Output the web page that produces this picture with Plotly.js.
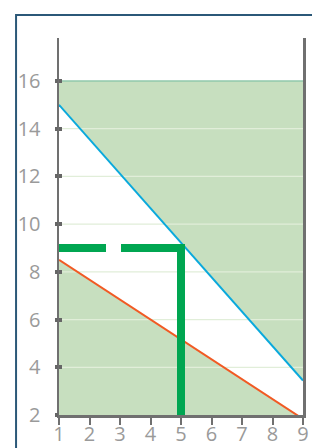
<!DOCTYPE html>
<html>
<head>
<meta charset="utf-8">
<script src="https://cdn.plot.ly/plotly-3.0.1.min.js"></script>
<style>html,body{margin:0;padding:0;background:#fff;}#chart{width:312px;height:448px;}</style>
</head>
<body>
<div id="chart"></div>
<script>
// Data
const xEnds = [1, 9];
const orangeY = [8.5, 1.833];     // 5x + 6y = 56
const blueY = [15, 3.444];        // 13x + 9y = 148
const topY = [16, 16];
const guideX = [1, 5, 5];
const guideY = [9, 9, 2];
const xTicks = [1, 2, 3, 4, 5, 6, 7, 8, 9];
const yTicks = [2, 4, 6, 8, 10, 12, 14, 16];
const gridVals = [4, 6, 8, 10, 12, 14];

const fillGreen = '#c7dfbf';
const gx = [], gy = [];
gridVals.forEach(v => { gx.push(xEnds[0], xEnds[1], null); gy.push(v, v, null); });

const traces = [
  {x: xEnds, y: orangeY, mode: 'lines', fill: 'tozeroy', fillcolor: fillGreen, line: {width: 0}, hoverinfo: 'skip'},
  {x: xEnds, y: blueY, mode: 'lines', line: {width: 0}, hoverinfo: 'skip'},
  {x: xEnds, y: topY, mode: 'lines', fill: 'tonexty', fillcolor: fillGreen, line: {color: '#90c9ab', width: 1.5}, hoverinfo: 'skip'},
  {x: gx, y: gy, mode: 'lines', line: {color: '#e1eed9', width: 1.2}, hoverinfo: 'skip', connectgaps: false},
  {x: xEnds, y: orangeY, mode: 'lines', line: {color: '#f15a24', width: 2}, hoverinfo: 'skip'},
  {x: xEnds, y: blueY, mode: 'lines', line: {color: '#0aa9dc', width: 2}, hoverinfo: 'skip'},
  {x: guideX, y: guideY, mode: 'lines', line: {color: '#00a651', width: 8, dash: '47px,15px,400px'}, hoverinfo: 'skip'},
  {x: [1], y: [2], yaxis: 'y2', mode: 'markers', marker: {opacity: 0}, hoverinfo: 'skip'}
];

const tickFont = {family: 'Open Sans, sans-serif', size: 20, color: '#9a9a9a'};

const layout = {
  width: 312, height: 448,
  margin: {l: 59, r: 9, t: 38, b: 33, pad: 0},
  paper_bgcolor: '#ffffff', plot_bgcolor: '#ffffff',
  showlegend: false,
  xaxis: {
    range: [1, 9], tickvals: xTicks, ticktext: xTicks.map(String),
    showline: true, linecolor: '#707070', linewidth: 2.5,
    ticks: 'outside', ticklen: 7, tickwidth: 2, tickcolor: '#707070',
    ticklabelstandoff: -8,
    showgrid: false, zeroline: false, tickfont: tickFont, fixedrange: true
  },
  yaxis: {
    range: [2, 17.8], tickvals: yTicks, ticktext: yTicks.map(String),
    showline: true, mirror: true, linecolor: '#707070', linewidth: 2.5,
    ticks: 'inside', ticklen: 3, tickwidth: 4, tickcolor: '#666666',
    ticklabelstandoff: 12,
    showgrid: false, zeroline: false, tickfont: tickFont, fixedrange: true
  },
  yaxis2: {
    overlaying: 'y', side: 'left', range: [2, 17.8], tickvals: yTicks,
    showticklabels: false, showline: false, showgrid: false, zeroline: false,
    ticks: 'outside', ticklen: 3, tickwidth: 4, tickcolor: '#666666', fixedrange: true
  },
  shapes: [
    {type: 'path', xref: 'paper', yref: 'paper',
     path: 'M -0.176 -0.3 L -0.176 1.061 L 1.2 1.061',
     line: {color: '#2b5878', width: 2}}
  ]
};

Plotly.newPlot('chart', traces, layout, {staticPlot: true, displayModeBar: false});
</script>
</body>
</html>
